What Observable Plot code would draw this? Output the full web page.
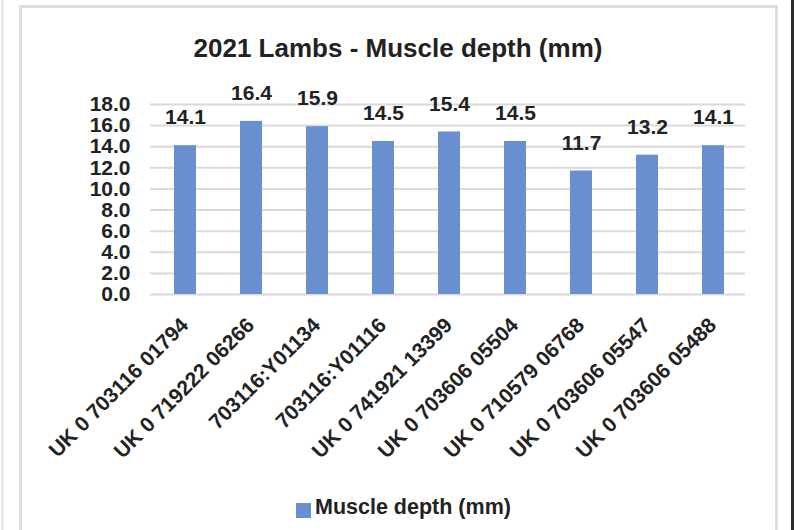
<!DOCTYPE html>
<html>
<head>
<meta charset="utf-8">
<script src="https://cdn.jsdelivr.net/npm/d3@7"></script>
<script src="https://cdn.jsdelivr.net/npm/@observablehq/plot@0.6"></script>
<style>
  html, body { margin: 0; padding: 0; background: #fff; }
  body { width: 794px; height: 530px; position: relative; overflow: hidden; font-family: "Liberation Sans", Arial, sans-serif; }
  #edgeL { position: absolute; left: 1px; top: 0; width: 3px; height: 530px; background: #ececec; }
  #edgeR { position: absolute; left: 791px; top: 0; width: 3px; height: 530px; background: #2e2e2e; }
  #frame { position: absolute; left: 19px; top: 5px; width: 753px; height: 600px; border: 3px solid #dedede; }
  #title { position: absolute; left: 0; top: 35px; width: 796px; text-align: center; font-weight: bold; font-size: 26px; line-height: 26px; color: #222; }
  #chart { position: absolute; left: 0; top: 0; }
  #legend { position: absolute; left: 296px; top: 496px; display: flex; align-items: flex-start; font-weight: bold; font-size: 21.5px; line-height: 22px; color: #222; }
  #legend .sw { width: 15px; height: 15px; background: #6a8fd0; margin-top: 7px; margin-right: 4px; }
</style>
</head>
<body>
<div id="edgeL"></div>
<div id="edgeR"></div>
<div id="frame"></div>
<div id="chart"></div>
<div id="title">2021 Lambs - Muscle depth (mm)</div>
<div id="legend"><div class="sw"></div><div>Muscle depth (mm)</div></div>
<script>
const categories = [
  "UK 0 703116 01794",
  "UK 0 719222 06266",
  "703116:Y01134",
  "703116:Y01116",
  "UK 0 741921 13399",
  "UK 0 703606 05504",
  "UK 0 710579 06768",
  "UK 0 703606 05547",
  "UK 0 703606 05488"
];
const muscleDepth = [14.1, 16.4, 15.9, 14.5, 15.4, 14.5, 11.7, 13.2, 14.1];
const yTicks = [0, 2, 4, 6, 8, 10, 12, 14, 16, 18];
const seriesName = "Muscle depth (mm)";

const data = categories.map((c, i) => ({name: c, value: muscleDepth[i]}));

const chart = Plot.plot({
  width: 794,
  height: 530,
  marginLeft: 150,
  marginRight: 47,
  marginTop: 104,
  marginBottom: 236,
  style: {fontFamily: "'Liberation Sans', Arial, sans-serif", fontWeight: "bold", color: "#222", background: "transparent", overflow: "visible"},
  x: {domain: categories, paddingInner: 0.667, paddingOuter: 0.333, axis: null},
  y: {domain: [0, 18], axis: null},
  marks: [
    Plot.ruleY(yTicks, {stroke: "#dadada", strokeWidth: 2, insetRight: 2}),
    Plot.barY(data, {x: "name", y: "value", fill: "#6a8fd0"}),
    Plot.text(data, {x: "name", y: "value", text: d => d.value.toFixed(1), dy: -28, fontSize: 21, fontWeight: "bold", fill: "#222"}),
    Plot.axisY({ticks: yTicks, tickFormat: d => d.toFixed(1), label: null, tickSize: 0, tickPadding: 20, fontSize: 21, fontWeight: "bold", fill: "#222"}),
    Plot.text(categories, {x: d => d, frameAnchor: "bottom", rotate: -45, textAnchor: "end", lineAnchor: "bottom", dx: 4, dy: 32, fontSize: 21, fontWeight: "bold", fill: "#222"})
  ]
});
document.getElementById("chart").appendChild(chart);
</script>
</body>
</html>
